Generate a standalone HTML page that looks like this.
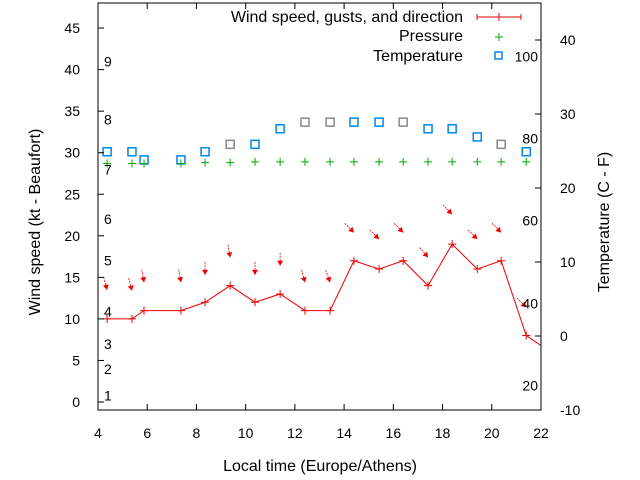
<!DOCTYPE html>
<html><head><meta charset="utf-8"><style>
body{margin:0;background:#fff}
svg{display:block;font-family:"Liberation Sans",sans-serif;font-size:14px}
.big{font-size:16px}
</style></head><body>
<svg id="chart" width="640" height="480">
<rect x="0" y="0" width="640" height="480" fill="#fff"/>
<g id="marks"></g>
<rect x="98" y="3" width="443" height="407" fill="none" stroke="#000" stroke-width="1"/>
<g id="axes"></g>
<text class="big" x="40" y="222" text-anchor="middle" transform="rotate(-90 40 222)">Wind speed (kt - Beaufort)</text>
<text class="big" x="609" y="222" text-anchor="middle" transform="rotate(-90 609 222)">Temperature (C - F)</text>
<text class="big" x="320" y="471" text-anchor="middle">Local time (Europe/Athens)</text>
<g>
<text class="big" x="463" y="22" text-anchor="end">Wind speed, gusts, and direction</text>
<line x1="477" y1="17" x2="521" y2="17" stroke="#e00"/>
<line x1="477" y1="14" x2="477" y2="20" stroke="#e00"/><line x1="521" y1="14" x2="521" y2="20" stroke="#e00"/><line x1="499" y1="13" x2="499" y2="21" stroke="#e00"/>
<text class="big" x="463" y="41" text-anchor="end">Pressure</text>
<path d="M495 37h8M499 33v8" stroke="#0a0"/>
<text class="big" x="463" y="61" text-anchor="end">Temperature</text>
<rect x="495" y="52" width="7" height="7" fill="none" stroke="#08e" stroke-width="1.5"/>
</g>
</svg>
<script>
const hours=[4.37,5.38,5.87,7.37,8.35,9.37,10.38,11.4,12.41,13.43,14.4,15.42,16.4,17.41,18.39,19.41,20.38,21.4,22.4];
const wind=[10,10,11,11,12,14,12,13,11,11,17,16,17,14,19,16,17,8,6];
const gust=[13.5,13.4,14.4,14.4,15.3,17.4,15.3,16.4,14.4,14.4,20.4,19.6,20.4,17.4,22.6,19.6,20.4,11.4];
const dirDeg=[345,345,350,350,0,350,0,0,345,340,315,315,315,320,315,315,315,315];
const pressure=[28.7,28.7,28.7,28.7,28.8,28.8,28.9,28.9,28.9,28.9,28.9,28.9,28.9,28.9,28.9,28.9,28.9,28.9];
const temp=[24.9,24.9,23.8,23.8,24.9,25.9,25.9,28,28.9,28.9,28.9,28.9,28.9,28,28,26.9,25.9,24.9];
const tempGrey=[0,0,0,0,0,1,0,0,1,1,0,0,1,0,0,0,1,0];
const xTicks=[4,6,8,10,12,14,16,18,20,22];
const yTicks=[0,5,10,15,20,25,30,35,40,45];
const y2Ticks=[-10,0,10,20,30,40];
const beaufort=[[1,0.8],[2,4],[3,7],[4,10.9],[5,17],[6,22],[7,28],[8,34],[9,41]];
const fahr=[[20,-6.7],[40,4.4],[60,15.6],[80,26.7],[100,37.8]];
const NS="http://www.w3.org/2000/svg";
const X=h=>98+(h-4)*443/18, Y=v=>402-v*8.31, Y2=c=>336-c*7.4;
const marks=document.getElementById('marks'), axes=document.getElementById('axes');
function mk(tag,at,par){const e=document.createElementNS(NS,tag);for(const k in at)e.setAttribute(k,at[k]);par.appendChild(e);return e;}
const clip=mk('clipPath',{id:'pc'},marks);mk('rect',{x:98,y:3,width:443,height:407},clip);
const g=mk('g',{'clip-path':'url(#pc)'},marks);
for(let i=0;i<temp.length;i++){const r=mk('rect',{x:X(hours[i])-4,y:Y2(temp[i])-4,width:8,height:8,fill:'none',stroke:tempGrey[i]?'#888':'#08e','stroke-width':1.5},g);

}
for(let i=0;i<pressure.length;i++){const x=X(hours[i]),y=Y(pressure[i]);const p=mk('path',{d:`M${x-4} ${y}h8M${x} ${y-4}v8`,stroke:'#0a0'},g);

}
const line=mk('polyline',{points:hours.map((h,i)=>X(h)+','+Y(wind[i])).join(' '),fill:'none',stroke:'#e00'},g);


for(let i=0;i<hours.length;i++){const x=X(hours[i]),y=Y(wind[i]);const p=mk('path',{d:`M${x-4} ${y}h8M${x} ${y-4}v8`,stroke:'#e00'},g);

}
for(let i=0;i<gust.length;i++){const tx=X(hours[i]),ty=Y(gust[i]);const a=(dirDeg[i])*Math.PI/180;
const dx=-Math.sin(a),dy=Math.cos(a);const L=13;const sx=tx-dx*L,sy=ty-dy*L;
const px=-dy,py=dx;const hx=tx-dx*5,hy=ty-dy*5;
const ar=mk('g',{},g);


mk('line',{x1:sx,y1:sy,x2:tx,y2:ty,stroke:'#e00','stroke-width':0.8,'stroke-dasharray':'2 1'},ar);
mk('polygon',{points:`${tx},${ty} ${hx+px*3},${hy+py*3} ${hx-px*3},${hy-py*3}`,fill:'#e00'},ar);}
for(const t of xTicks){const x=X(t);mk('path',{d:`M${x} 410v-6M${x} 3v6`,stroke:'#000'},axes);
const tx=mk('text',{x:x,y:438,'text-anchor':'middle'},axes);tx.textContent=t;

}
for(const t of yTicks){const y=Y(t);mk('path',{d:`M98 ${y}h6`,stroke:'#000'},axes);
const tx=mk('text',{x:80,y:y+5,'text-anchor':'end'},axes);tx.textContent=t;

}
for(const t of y2Ticks){const y=Y2(t);mk('path',{d:`M541 ${y}h-6`,stroke:'#000'},axes);
const tx=mk('text',{x:560,y:y+5},axes);tx.textContent=t;

}
for(const [b,v] of beaufort){const tx=mk('text',{x:104,y:Y(v)+5},axes);tx.textContent=b;

}
for(const [f,c] of fahr){const tx=mk('text',{x:538,y:Y2(c)+5,'text-anchor':'end'},axes);tx.textContent=f;

}
</script>
</body></html>
